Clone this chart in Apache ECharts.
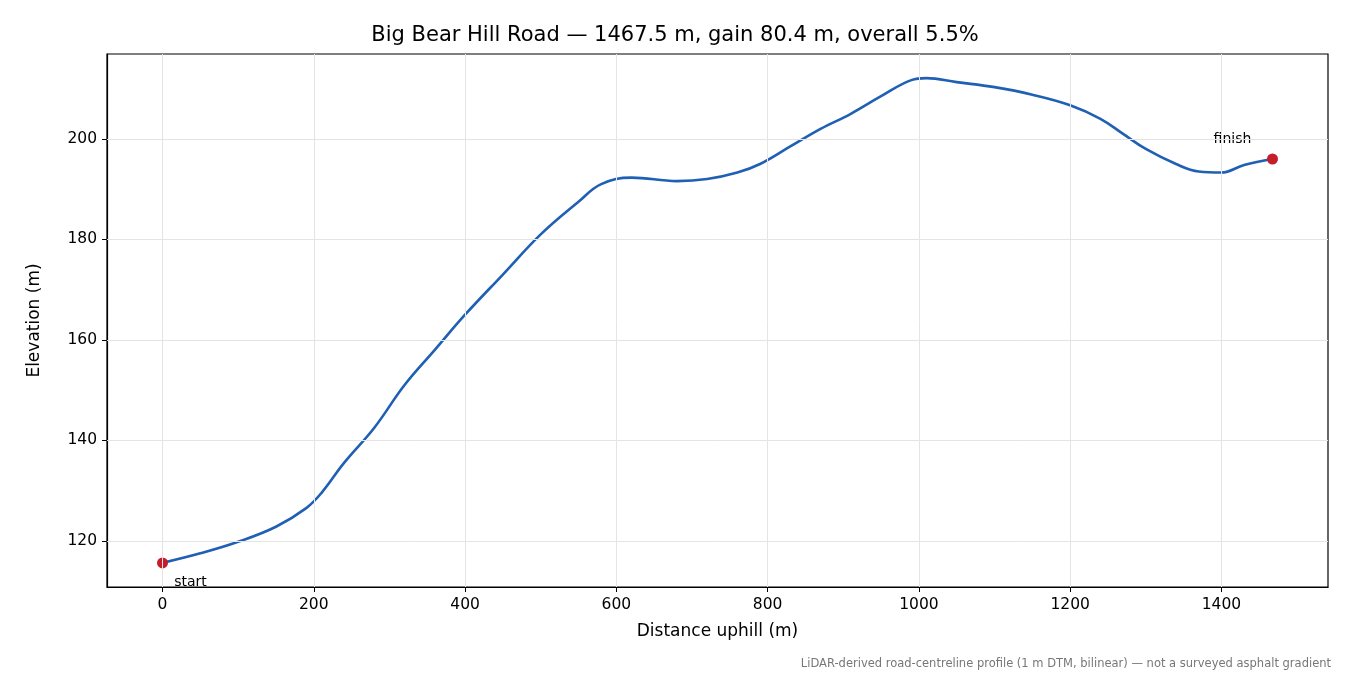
<!DOCTYPE html>
<html><head><meta charset="utf-8">
<script src="https://cdn.jsdelivr.net/npm/echarts@6/dist/echarts.min.js"></script>
<style>html,body{margin:0;padding:0;background:#fff}#c{width:1350px;height:675px}</style>
</head><body><div id="c"></div>
<script>
const distance = [0,50,100,150,190,210,240,280,320,360,400,450,500,550,580,620,680,720,760,790,830,870,910,950,990,1010,1050,1100,1150,1200,1240,1270,1300,1340,1370,1400,1430,1467.5];
const elevation = [115.6,117.5,119.8,122.8,126.5,129.5,135.5,142.5,151,158,165,173,181,187.5,191,192.3,191.6,192,193.3,195,198.5,202,205,208.5,211.7,212.1,211.3,210.3,208.8,206.7,204,201,198,195,193.5,193.3,194.8,196];
const endpoints = [[0,115.6,'start'],[1467.5,196,'finish']];
const xTicks = [0,200,400,600,800,1000,1200,1400];
const yTicks = [120,140,160,180,200];
const titleText = 'Big Bear Hill Road — 1467.5 m, gain 80.4 m, overall 5.5%';
const noteText = 'LiDAR-derived road-centreline profile (1 m DTM, bilinear) — not a surveyed asphalt gradient';

const chart = echarts.init(document.getElementById('c'));
const font = 'DejaVu Sans';
chart.setOption({
  animation:false,
  textStyle:{fontFamily:font},
  title:[{text:titleText,left:'center',top:20,textStyle:{fontFamily:font,fontSize:21,fontWeight:'normal',color:'#000'}},
         {text:noteText,right:14,top:653,textStyle:{fontFamily:font,fontSize:11.5,fontWeight:'normal',color:'#777'}}],
  grid:{left:107,right:22,top:54,bottom:88,show:true,borderColor:'#000',borderWidth:1.2},
  xAxis:{type:'value',min:-73.4,max:1540.9,
    name:'Distance uphill (m)',nameLocation:'middle',nameGap:36,nameTextStyle:{fontSize:17,color:'#000'},
    axisLine:{show:true,onZero:false,lineStyle:{color:'#000',width:1.2}},
    axisLabel:{fontSize:15.5,color:'#000',customValues:xTicks,formatter:v=>String(v),margin:10},
    axisTick:{show:true,customValues:xTicks,length:5,lineStyle:{color:'#000'}},
    splitLine:{show:false}},
  yAxis:{type:'value',min:110.8,max:216.9,
    name:'Elevation (m)',nameLocation:'middle',nameGap:64,nameTextStyle:{fontSize:17,color:'#000'},
    axisLine:{show:true,onZero:false,lineStyle:{color:'#000',width:1.2}},
    axisLabel:{fontSize:15.5,color:'#000',customValues:yTicks,margin:10},
    axisTick:{show:true,customValues:yTicks,length:5,lineStyle:{color:'#000'}},
    splitLine:{show:false}},
  series:[
    {type:'line',data:[],z:1,silent:true,
     markLine:{silent:true,symbol:'none',label:{show:false},lineStyle:{color:'#e4e4e4',type:'solid',width:1},
       data:yTicks.map(v=>({yAxis:v})).concat(xTicks.map(v=>({xAxis:v})))}},
    {type:'line',data:distance.map((d,i)=>[d,elevation[i]]),smooth:0.4,showSymbol:false,
     lineStyle:{color:'#1f5fb4',width:2.6},z:2},
    {type:'scatter',data:endpoints.map(p=>({value:[p[0],p[1]],name:p[2],
       label:{show:true,formatter:p[2],fontSize:14,color:'#000',
         position:p[2]==='start'?'bottom':'top',
         offset:p[2]==='start'?[28,2]:[-40,-2]}})),
     symbolSize:11,itemStyle:{color:'#c41e2a',opacity:1},z:3}
  ]
});
</script></body></html>
